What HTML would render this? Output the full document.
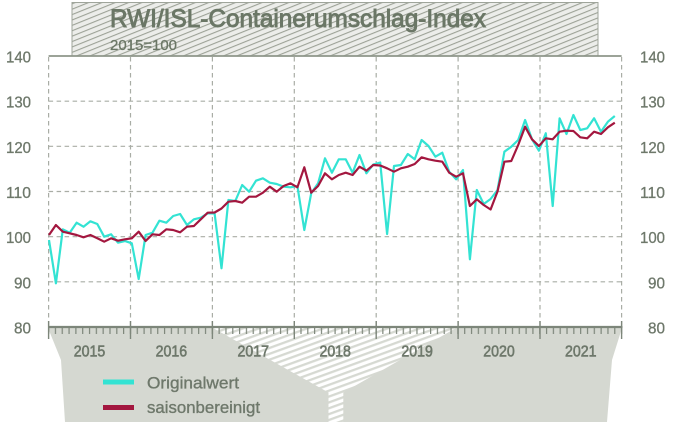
<!DOCTYPE html>
<html><head><meta charset="utf-8"><style>
html,body{margin:0;padding:0;background:#fff;}
svg{display:block;}
text{font-family:"Liberation Sans Narrow","Liberation Sans",sans-serif;fill:#6e786b;}
</style></head><body>
<svg width="675" height="422" viewBox="0 0 675 422" xmlns="http://www.w3.org/2000/svg">
<defs>
<pattern id="hatchT" patternUnits="userSpaceOnUse" width="20" height="5" patternTransform="rotate(-22)">
<rect width="20" height="5" fill="#ecedea"/>
<rect y="0" width="20" height="1.1" fill="#9da297"/>
</pattern>
<pattern id="hatchF" patternUnits="userSpaceOnUse" width="20" height="5.5" patternTransform="rotate(-20)">
<rect width="20" height="5.5" fill="#ffffff"/>
<rect y="0" width="20" height="2.3" fill="#d6d9d2"/>
</pattern>
<pattern id="minor" patternUnits="userSpaceOnUse" x="48" y="327" width="6.8214" height="8">
<rect x="0" y="0" width="1.2" height="8" fill="#7d867a"/>
</pattern>
</defs>

<!-- title box -->
<rect x="72" y="2.5" width="526" height="53.5" fill="url(#hatchT)" stroke="#9fa59b" stroke-width="1"/>
<text x="110" y="27" font-size="25" textLength="376" lengthAdjust="spacingAndGlyphs" style="fill:#6b7766" stroke="#6b7766" stroke-width="0.9">RWI/ISL-Containerumschlag-Index</text>
<text x="110" y="50" font-size="14.5" textLength="67" lengthAdjust="spacingAndGlyphs" style="fill:#6b7766" stroke="#6b7766" stroke-width="0.3">2015=100</text>

<!-- bottom grey area -->
<rect x="213" y="328" width="245" height="94" fill="url(#hatchF)"/>
<polygon points="48,328 213,328 328.5,392.5 328.5,422 65,422 61,360" fill="#d5d8d1"/>
<polygon points="456,328 622,328 612,360 607,422 343.3,422 343.3,392.5" fill="#d5d8d1"/>
<rect x="0" y="328" width="48" height="94" fill="#fff"/>

<!-- grid -->
<g stroke="#a9ada5" stroke-width="1.2" stroke-dasharray="4.5 3.5" fill="none">
<line x1="48.6" y1="101.2" x2="621.6" y2="101.2"/>
<line x1="48.6" y1="146.3" x2="621.6" y2="146.3"/>
<line x1="48.6" y1="191.5" x2="621.6" y2="191.5"/>
<line x1="48.6" y1="236.7" x2="621.6" y2="236.7"/>
<line x1="48.6" y1="281.8" x2="621.6" y2="281.8"/>
<line x1="48.6" y1="57" x2="48.6" y2="326"/>
<line x1="130.5" y1="57" x2="130.5" y2="326"/>
<line x1="212.4" y1="57" x2="212.4" y2="326"/>
<line x1="294.3" y1="57" x2="294.3" y2="326"/>
<line x1="376.2" y1="57" x2="376.2" y2="326"/>
<line x1="458.1" y1="57" x2="458.1" y2="326"/>
<line x1="540" y1="57" x2="540" y2="326"/>
<line x1="621.6" y1="57" x2="621.6" y2="326"/>
</g>
<line x1="48.6" y1="56" x2="621.6" y2="56" stroke="#8e968a" stroke-width="1.8"/>

<!-- axis -->
<rect x="48" y="327" width="575" height="7" fill="url(#minor)"/>
<line x1="48" y1="327" x2="622.5" y2="327" stroke="#7d867a" stroke-width="2.2"/>
<g stroke="#7d867a" stroke-width="1.4">
<line x1="48.6" y1="321" x2="48.6" y2="339"/>
<line x1="130.5" y1="321" x2="130.5" y2="339"/>
<line x1="212.4" y1="321" x2="212.4" y2="339"/>
<line x1="294.3" y1="321" x2="294.3" y2="339"/>
<line x1="376.2" y1="321" x2="376.2" y2="339"/>
<line x1="458.1" y1="321" x2="458.1" y2="339"/>
<line x1="540" y1="321" x2="540" y2="339"/>
<line x1="621.6" y1="321" x2="621.6" y2="339"/>
</g>

<!-- y labels -->
<g font-size="15.5" text-anchor="end" stroke="#6e786b" stroke-width="0.3">
<text x="31" y="62.5" textLength="25" lengthAdjust="spacingAndGlyphs">140</text>
<text x="31" y="107.7" textLength="25" lengthAdjust="spacingAndGlyphs">130</text>
<text x="31" y="152.8" textLength="25" lengthAdjust="spacingAndGlyphs">120</text>
<text x="31" y="198" textLength="25" lengthAdjust="spacingAndGlyphs">110</text>
<text x="31" y="243.2" textLength="25" lengthAdjust="spacingAndGlyphs">100</text>
<text x="31" y="288.3" textLength="17" lengthAdjust="spacingAndGlyphs">90</text>
<text x="31" y="333.5" textLength="17" lengthAdjust="spacingAndGlyphs">80</text>
<text x="665" y="62.5" textLength="25" lengthAdjust="spacingAndGlyphs">140</text>
<text x="665" y="107.7" textLength="25" lengthAdjust="spacingAndGlyphs">130</text>
<text x="665" y="152.8" textLength="25" lengthAdjust="spacingAndGlyphs">120</text>
<text x="665" y="198" textLength="25" lengthAdjust="spacingAndGlyphs">110</text>
<text x="665" y="243.2" textLength="25" lengthAdjust="spacingAndGlyphs">100</text>
<text x="665" y="288.3" textLength="17" lengthAdjust="spacingAndGlyphs">90</text>
<text x="665" y="333.5" textLength="17" lengthAdjust="spacingAndGlyphs">80</text>
</g>

<!-- year labels -->
<g font-size="15.5" text-anchor="middle" stroke="#6e786b" stroke-width="0.6">
<text x="89.5" y="356.5" textLength="31.5" lengthAdjust="spacingAndGlyphs">2015</text>
<text x="171.4" y="356.5" textLength="31.5" lengthAdjust="spacingAndGlyphs">2016</text>
<text x="253.3" y="356.5" textLength="31.5" lengthAdjust="spacingAndGlyphs">2017</text>
<text x="335.2" y="356.5" textLength="31.5" lengthAdjust="spacingAndGlyphs">2018</text>
<text x="417.1" y="356.5" textLength="31.5" lengthAdjust="spacingAndGlyphs">2019</text>
<text x="499" y="356.5" textLength="31.5" lengthAdjust="spacingAndGlyphs">2020</text>
<text x="580.8" y="356.5" textLength="31.5" lengthAdjust="spacingAndGlyphs">2021</text>
</g>

<!-- legend -->
<rect x="103" y="379.5" width="31" height="5" fill="#33e3d3"/>
<rect x="103" y="405" width="31" height="5" fill="#a3173f"/>
<text x="147" y="388.5" font-size="16.5" textLength="92" lengthAdjust="spacingAndGlyphs" stroke="#6e786b" stroke-width="0.35">Originalwert</text>
<text x="147" y="413" font-size="16.5" textLength="113" lengthAdjust="spacingAndGlyphs" stroke="#6e786b" stroke-width="0.35">saisonbereinigt</text>

<!-- series -->
<polyline fill="none" stroke="#33e3d3" stroke-width="2.2" stroke-linejoin="round" points="49,240 55.9,283.3 62.8,229.3 69.7,232.7 76.6,222.7 83.5,226.7 90.4,221.3 97.3,224 104.2,236.7 111.1,234.3 118,242.7 124.9,241 131.8,243.3 138.7,279 145.6,235 152.5,232.7 159.4,220.7 166.3,222.7 173.2,216 180.1,214 187,225 193.9,219.3 200.8,217.7 207.7,213.3 214.6,213.5 221.5,268.3 228.4,200 235.3,201 242.2,185 249.1,191.7 256,180.7 262.9,178.3 269.8,182.7 276.7,184 283.6,186.7 290.5,187.3 297.4,186 304.3,230 311.2,193.3 318.1,183.3 325,158.3 331.9,172.7 338.8,159.3 345.7,159.3 352.6,172.7 359.5,155 366.4,173.3 373.3,164.5 380.2,162.5 387.1,234 394,166 400.9,165 407.8,154 414.7,159.3 421.6,140 428.5,146 435.4,156.7 442.3,152.7 449.2,171.7 456.1,179.3 463,170 469.9,259.3 476.8,190 483.7,204 490.6,199 497.5,190 504.4,151.7 511.3,146.7 518.2,140 525.1,120 532,139.3 538.9,150.7 545.8,133.3 552.7,206 559.6,118.3 566.5,134 573.4,115 580.3,130 587.2,128.3 594.1,118.3 601,131.7 607.9,121.7 614.8,116"/>
<polyline fill="none" stroke="#a3173f" stroke-width="2.2" stroke-linejoin="round" points="49,235 55.9,225 62.8,231.7 69.7,233.3 76.6,235 83.5,237.3 90.4,235 97.3,238.3 104.2,241.7 111.1,238.3 118,240.7 124.9,239.3 131.8,238.3 138.7,231.7 145.6,241 152.5,234.3 159.4,235 166.3,229.3 173.2,230 180.1,232.3 187,226.7 193.9,226 200.8,219.3 207.7,212.7 214.6,212.5 221.5,208.5 228.4,201.7 235.3,201 242.2,202.7 249.1,196.7 256,196.7 262.9,192.7 269.8,186.7 276.7,191.7 283.6,186 290.5,183.3 297.4,187.3 304.3,167.3 311.2,192.7 318.1,186 325,173.3 331.9,179.3 338.8,175 345.7,172.7 352.6,175 359.5,166.7 366.4,170.7 373.3,165 380.2,165.5 387.1,168.3 394,171.7 400.9,168.3 407.8,166.7 414.7,164 421.6,157.3 428.5,159.3 435.4,160.7 442.3,161.7 449.2,172.7 456.1,176.7 463,173.3 469.9,206 476.8,199.3 483.7,205 490.6,209.5 497.5,191.5 504.4,161.7 511.3,161 518.2,145 525.1,126.7 532,139.3 538.9,146 545.8,138.3 552.7,139.3 559.6,131.7 566.5,130.7 573.4,131 580.3,137.3 587.2,138.3 594.1,131.7 601,134 607.9,127.3 614.8,122.7"/>
</svg>
</body></html>
